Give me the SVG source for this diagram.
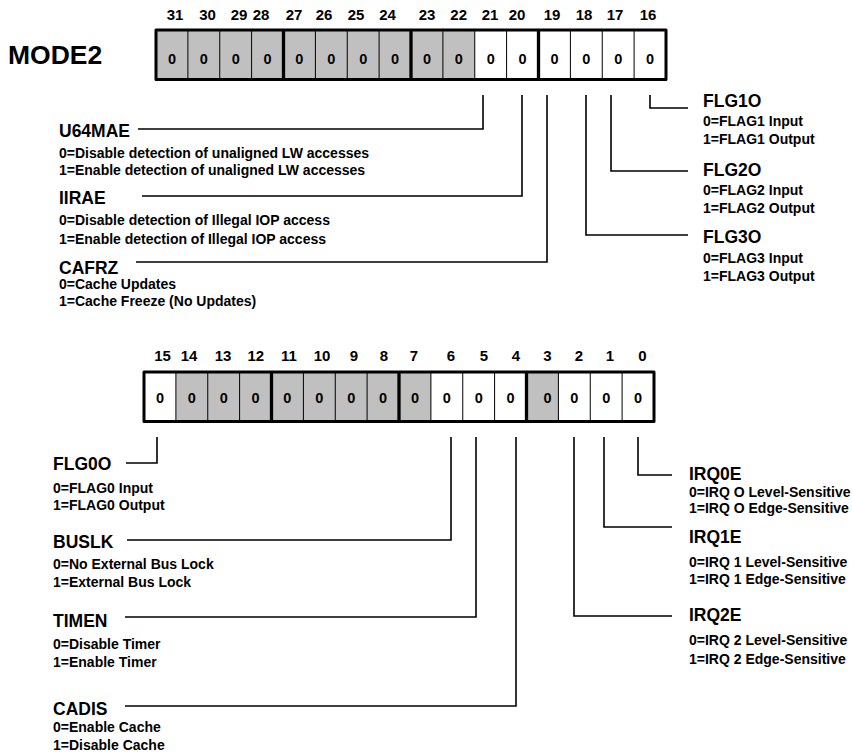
<svg xmlns="http://www.w3.org/2000/svg" width="852" height="755" viewBox="0 0 852 755">
<style>
text{font-family:"Liberation Sans",Arial,sans-serif;font-weight:bold;fill:#000}
.t{font-size:26.5px}
.n{font-size:15px;text-anchor:middle}
.z{font-size:14.5px;text-anchor:middle}
.h{font-size:17.5px}
.d{font-size:14px}
.g{fill:#c0c0c0}
.thin{stroke:#000;stroke-width:1}
.thick{stroke:#000;stroke-width:3.3}
.box{fill:none;stroke:#000;stroke-width:3;stroke-linejoin:round}
.c{fill:none;stroke:#000;stroke-width:1.6}
</style>
<rect width="852" height="755" fill="#fff"/>

<g id="title"><text class="t" x="8" y="64">MODE2</text></g>

<g id="reg-hi">
<rect class="g" x="156" y="30" width="318.75" height="49.5"/>
<g class="thin">
<line x1="187.9" y1="30" x2="187.9" y2="81"/><line x1="219.75" y1="30" x2="219.75" y2="81"/><line x1="251.6" y1="30" x2="251.6" y2="81"/>
<line x1="315.4" y1="30" x2="315.4" y2="81"/><line x1="347.25" y1="30" x2="347.25" y2="81"/><line x1="379.1" y1="30" x2="379.1" y2="81"/>
<line x1="442.9" y1="30" x2="442.9" y2="81"/><line x1="474.75" y1="30" x2="474.75" y2="81"/><line x1="506.6" y1="30" x2="506.6" y2="81"/>
<line x1="570.4" y1="30" x2="570.4" y2="81"/><line x1="602.25" y1="30" x2="602.25" y2="81"/><line x1="634.1" y1="30" x2="634.1" y2="81"/>
</g>
<g class="thick">
<line x1="283.5" y1="30" x2="283.5" y2="79.5"/><line x1="411" y1="30" x2="411" y2="79.5"/><line x1="538.5" y1="30" x2="538.5" y2="79.5"/>
</g>
<rect class="box" x="156" y="30" width="510" height="49.5"/>
<g class="n">
<text x="175" y="20">31</text><text x="207.5" y="20">30</text><text x="239" y="20">29</text><text x="261" y="20">28</text>
<text x="294" y="20">27</text><text x="324" y="20">26</text><text x="356" y="20">25</text><text x="387.5" y="20">24</text>
<text x="427" y="20">23</text><text x="458.7" y="20">22</text><text x="490" y="20">21</text><text x="517" y="20">20</text>
<text x="552" y="20">19</text><text x="584" y="20">18</text><text x="615" y="20">17</text><text x="648" y="20">16</text>
</g>
<g class="z">
<text x="172" y="64">0</text><text x="203.8" y="64">0</text><text x="235.7" y="64">0</text><text x="267.6" y="64">0</text>
<text x="299.4" y="64">0</text><text x="331.3" y="64">0</text><text x="363.2" y="64">0</text><text x="395" y="64">0</text>
<text x="427" y="64">0</text><text x="458.9" y="64">0</text><text x="490.8" y="64">0</text><text x="522.6" y="64">0</text>
<text x="554.5" y="64">0</text><text x="586.4" y="64">0</text><text x="618.3" y="64">0</text><text x="650.1" y="64">0</text>
</g>
</g>

<g id="reg-lo">
<rect class="g" x="175.9" y="372" width="255.1" height="49.5"/>
<rect class="g" x="526.5" y="372" width="31.9" height="49.5"/>
<g class="thin">
<line x1="175.9" y1="372" x2="175.9" y2="423"/><line x1="207.75" y1="372" x2="207.75" y2="423"/><line x1="239.6" y1="372" x2="239.6" y2="423"/>
<line x1="303.4" y1="372" x2="303.4" y2="423"/><line x1="335.25" y1="372" x2="335.25" y2="423"/><line x1="367.1" y1="372" x2="367.1" y2="423"/>
<line x1="430.9" y1="372" x2="430.9" y2="423"/><line x1="462.75" y1="372" x2="462.75" y2="423"/><line x1="494.6" y1="372" x2="494.6" y2="423"/>
<line x1="558.4" y1="372" x2="558.4" y2="423"/><line x1="590.25" y1="372" x2="590.25" y2="423"/><line x1="622.1" y1="372" x2="622.1" y2="423"/>
</g>
<g class="thick">
<line x1="271.5" y1="372" x2="271.5" y2="421.5"/><line x1="399" y1="372" x2="399" y2="421.5"/><line x1="526.5" y1="372" x2="526.5" y2="421.5"/>
</g>
<rect class="box" x="144" y="372" width="510" height="49.5"/>
<g class="n">
<text x="162.5" y="361">15</text><text x="189" y="361">14</text><text x="223" y="361">13</text><text x="255.8" y="361">12</text>
<text x="289" y="361">11</text><text x="322" y="361">10</text><text x="354" y="361">9</text><text x="384" y="361">8</text>
<text x="414" y="361">7</text><text x="451" y="361">6</text><text x="484" y="361">5</text><text x="516" y="361">4</text>
<text x="547.5" y="361">3</text><text x="579" y="361">2</text><text x="610" y="361">1</text><text x="642.5" y="361">0</text>
</g>
<g class="z">
<text x="160" y="403">0</text><text x="191.8" y="403">0</text><text x="223.7" y="403">0</text><text x="255.6" y="403">0</text>
<text x="287.4" y="403">0</text><text x="319.3" y="403">0</text><text x="351.2" y="403">0</text><text x="383.1" y="403">0</text>
<text x="415" y="403">0</text><text x="446.8" y="403">0</text><text x="478.7" y="403">0</text><text x="510.6" y="403">0</text>
<text x="547.5" y="403">0</text><text x="574.4" y="403">0</text><text x="606.2" y="403">0</text><text x="638" y="403">0</text>
</g>
</g>

<g id="connectors" class="c">
<polyline points="483,95 483,129 138,129"/>
<polyline points="522,95 522,196 142,196"/>
<polyline points="547,95 547,262 136,262"/>
<polyline points="586,95 586,235 688,235"/>
<polyline points="611,95 611,171 688,171"/>
<polyline points="650,95 650,108 688,108"/>
<polyline points="157,437 157,463 126,463"/>
<polyline points="451,437 451,540 127,540"/>
<polyline points="476,437 476,617 125,617"/>
<polyline points="516,437 516,706 125,706"/>
<polyline points="574,437 574,616 672,616"/>
<polyline points="604,437 604,527 672,527"/>
<polyline points="638,437 638,475 672,475"/>
</g>

<g id="U64MAE"><text class="h" x="59" y="137">U64MAE</text>
<text class="d" x="59" y="158">0=Disable detection of unaligned LW accesses</text>
<text class="d" x="59" y="175">1=Enable detection of unaligned LW accesses</text></g>
<g id="IIRAE"><text class="h" x="59" y="204">IIRAE</text>
<text class="d" x="59" y="225">0=Disable detection of Illegal IOP access</text>
<text class="d" x="59" y="244">1=Enable detection of Illegal IOP access</text></g>
<g id="CAFRZ"><text class="h" x="59" y="274">CAFRZ</text>
<text class="d" x="59" y="289">0=Cache Updates</text>
<text class="d" x="59" y="306">1=Cache Freeze (No Updates)</text></g>

<g id="FLG1O"><text class="h" x="703" y="107">FLG1O</text>
<text class="d" x="703" y="126">0=FLAG1 Input</text>
<text class="d" x="703" y="144">1=FLAG1 Output</text></g>
<g id="FLG2O"><text class="h" x="703" y="176">FLG2O</text>
<text class="d" x="703" y="195">0=FLAG2 Input</text>
<text class="d" x="703" y="213">1=FLAG2 Output</text></g>
<g id="FLG3O"><text class="h" x="703" y="243">FLG3O</text>
<text class="d" x="703" y="263">0=FLAG3 Input</text>
<text class="d" x="703" y="281">1=FLAG3 Output</text></g>

<g id="FLG0O"><text class="h" x="53" y="470">FLG0O</text>
<text class="d" x="53" y="493">0=FLAG0 Input</text>
<text class="d" x="53" y="510">1=FLAG0 Output</text></g>
<g id="BUSLK"><text class="h" x="53" y="548">BUSLK</text>
<text class="d" x="53" y="568.5">0=No External Bus Lock</text>
<text class="d" x="53" y="586.5">1=External Bus Lock</text></g>
<g id="TIMEN"><text class="h" x="53" y="627">TIMEN</text>
<text class="d" x="53" y="648.5">0=Disable Timer</text>
<text class="d" x="53" y="667">1=Enable Timer</text></g>
<g id="CADIS"><text class="h" x="53" y="715">CADIS</text>
<text class="d" x="53" y="731.5">0=Enable Cache</text>
<text class="d" x="53" y="750">1=Disable Cache</text></g>

<g id="IRQ0E"><text class="h" x="689" y="480">IRQ0E</text>
<text class="d" x="689" y="497">0=IRQ O Level-Sensitive</text>
<text class="d" x="689" y="513">1=IRQ O Edge-Sensitive</text></g>
<g id="IRQ1E"><text class="h" x="689" y="543">IRQ1E</text>
<text class="d" x="689" y="567">0=IRQ 1 Level-Sensitive</text>
<text class="d" x="689" y="584">1=IRQ 1 Edge-Sensitive</text></g>
<g id="IRQ2E"><text class="h" x="689" y="621">IRQ2E</text>
<text class="d" x="689" y="645">0=IRQ 2 Level-Sensitive</text>
<text class="d" x="689" y="664">1=IRQ 2 Edge-Sensitive</text></g>
</svg>
